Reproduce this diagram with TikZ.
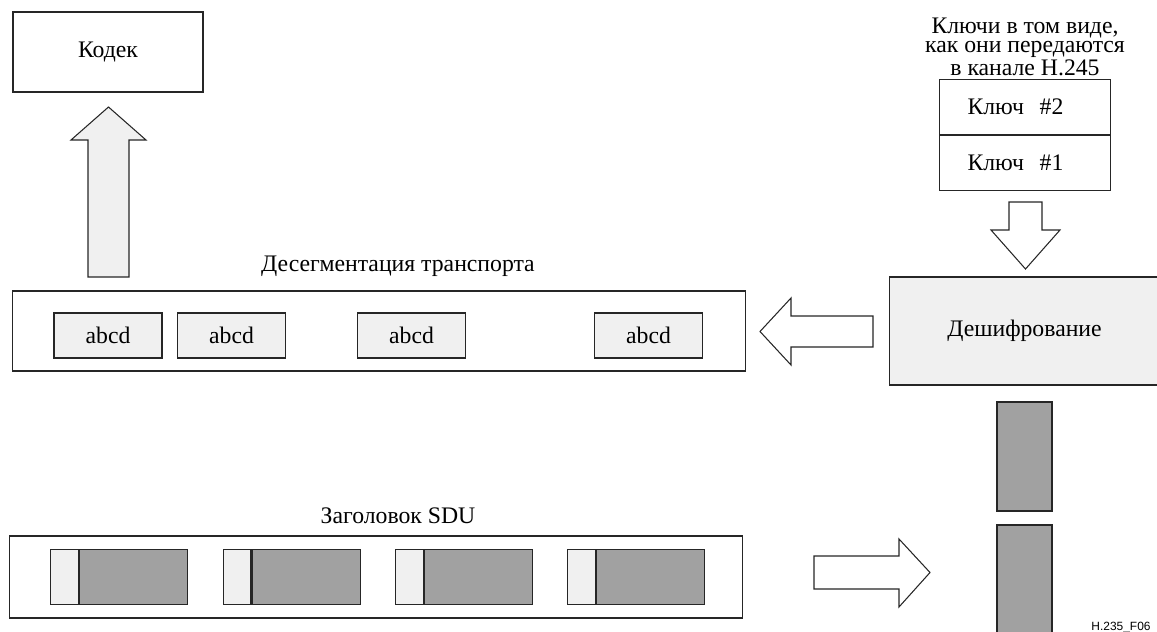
\documentclass[tikz,border=0pt]{standalone}
\usepackage{fontspec}
\setmainfont{Liberation Serif}
\newfontfamily\figfont{Liberation Sans}
\usetikzlibrary{positioning}

\begin{document}
\begin{tikzpicture}[x=0.02cm,y=-0.02cm]
		\tikzstyle{every node}=[font=\fontsize{13.5}{11}\selectfont]
		\tikzstyle{box}=[draw=black!85,line width=0.6pt,inner sep=0pt]
		\tikzstyle{lightbox}=[box,fill=black!6]
		\tikzstyle{darkbox}=[box,fill=black!37]
		\tikzstyle{keybox}=[box,anchor=north west,minimum height=1.1cm,text width=2.3cm,inner xsep=0.56cm,align=left]
		\tikzstyle{bigarrow}=[draw=black!85,line width=0.6pt,line join=miter]
		
		\useasboundingbox (0,0) rectangle (1157,632);
		
		% Codec
		\node[box,minimum width=3.8cm,minimum height=1.6cm] (codec) at (108,52) {Кодек};
		\draw [bigarrow,fill=black!6] (88,277) -- (88,140) -- (71,140) -- (108.5,107) -- (146,140) -- (129,140) -- (129,277) -- cycle;
		
		% Transport desegmentation
		\node[box,minimum width=14.68cm,minimum height=1.6cm] (transport) at (379,331) {};
		\node[anchor=base] (transporttitle) at (398,271) {Десегментация транспорта};
		\foreach \i/\x in {1/108,2/231.5,3/411.5,4/648.5}
			\node[lightbox,minimum width=2.16cm,minimum height=0.9cm] (abcd\i) at (\x,335.5) {abcd};
		
		\draw [bigarrow,fill=white] (873,316) -- (791,316) -- (791,298) -- (760,331.5) -- (791,365) -- (791,347) -- (873,347) -- cycle;
		
		% Keys (base of a multi-line node is its last line)
		\node[anchor=base,align=center] (keystitle) at (1025,75) {Ключи в том виде,\\как они передаются\\в канале H.245};
		\node[keybox] (key2) at (939,79) {Ключ~~\#2};
		\node[keybox,below=0pt of key2] (key1) {Ключ~~\#1};
		
		\draw [bigarrow,fill=white] (1009,202) -- (1009,230) -- (991,230) -- (1025.5,269) -- (1060,230) -- (1042,230) -- (1042,202) -- cycle;
		
		% Decryption
		\node[lightbox,minimum width=5.42cm,minimum height=2.16cm] (decrypt) at (1024.5,331) {Дешифрование};
		
		\node[darkbox,minimum width=1.1cm,minimum height=2.18cm] (bar1) at (1024.5,456.5) {};
		\node[darkbox,minimum width=1.1cm,minimum height=2.3cm] (bar2) at (1024.5,582.5) {};
		
		% SDU header
		\node[box,minimum width=14.68cm,minimum height=1.64cm] (sdu) at (376,577) {};
		\node[anchor=base] (sdutitle) at (398,523) {Заголовок SDU};
		\foreach \i/\x in {1/50,2/222.5,3/395,4/567} {
			\node[lightbox,anchor=north west,minimum width=0.56cm,minimum height=1.1cm] (head\i) at (\x,549) {};
			\node[darkbox,anchor=north west,minimum width=2.16cm,minimum height=1.1cm] (body\i) at (head\i.north east) {};
		}
		
		\draw [bigarrow,fill=white] (814,556) -- (899,556) -- (899,539) -- (930,572.5) -- (899,607) -- (899,589) -- (814,589) -- cycle;
		
		\node[anchor=base,font=\figfont\fontsize{6.8}{8}\selectfont] (figid) at (1121,630) {H.235\_F06};
\end{tikzpicture}
\end{document}
